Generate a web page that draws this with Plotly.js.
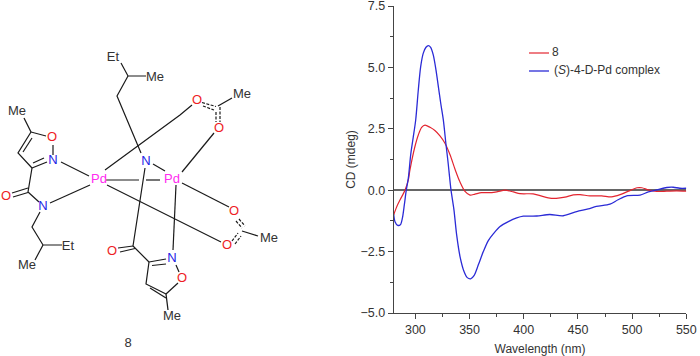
<!DOCTYPE html>
<html><head><meta charset="utf-8">
<script src="https://cdn.plot.ly/plotly-3.0.1.min.js"></script>
<style>html,body{margin:0;padding:0;background:#fff}#c{width:700px;height:356px}</style></head>
<body><div id="c"></div>
<script>
// CD spectra
const redX=[280,281,283,285.8,290.4,293.5,295,299.6,302.7,305.8,308.9,313.5,318,322.7,327.3,332,336.6,341,345.8,350.4,355,361,370.4,376,382.8,390.4,396.5,408.7,415,422.6,430,438,445.7,451.9,461,471.9,481,488.9,496.6,504.6,509,515,522.7,532,541,550];
const redY=[-1.0,-0.88,-0.65,-0.4,0,0.42,0.83,1.78,2.25,2.56,2.65,2.56,2.43,2.21,1.91,1.44,0.85,0.35,-0.05,-0.2,-0.16,-0.1,-0.1,-0.06,0,-0.07,-0.14,-0.15,-0.22,-0.31,-0.33,-0.28,-0.19,-0.18,-0.23,-0.23,-0.27,-0.18,-0.04,0.1,0.1,0.01,-0.05,-0.04,-0.03,-0.04];
const blueX=[280,281.2,283.7,286.1,288,289.8,291.6,293.5,295.7,298,300.3,302.7,304.9,307.3,309.8,311.9,314.1,316.5,319,321.2,323.4,325.8,328.3,330,332.9,335.6,338.1,341.2,344.9,347.9,351,354.1,358.1,362.7,367.3,371.9,378.1,385.8,393.5,399.6,412,424,436.4,448.8,459.5,467,479.6,487,495,507.3,515,522.7,532,538,544,550];
const blueY=[-0.98,-1.28,-1.43,-1.41,-1.14,-0.6,0,0.49,1.45,2.15,2.86,4.08,5.03,5.58,5.82,5.89,5.82,5.51,4.9,4.22,3.54,2.86,1.84,1.2,0,-0.8,-1.82,-2.7,-3.31,-3.56,-3.61,-3.48,-3.04,-2.5,-2.05,-1.78,-1.48,-1.28,-1.13,-1.06,-1.05,-0.99,-1.04,-0.87,-0.76,-0.66,-0.57,-0.39,-0.23,-0.2,-0.07,0.01,0.11,0.12,0.08,0.08];
const redName='8';
const blueName='(<i>S</i>)-4-D-Pd complex';
const yTicks=[-5,-2.5,0,2.5,5,7.5];
const yTickLabels=['\u22125.0','\u22122.5','0.0','2.5','5.0','7.5'];
const xTicks=[300,350,400,450,500,550];

// structure of 8: bond segments, separated by null
const bondX=[121,128,146,null,128,117,141,null,105,180,192,null,145,133,149,null,133,118,null,135,120,null,
 149,166,null,152,166,null,149,146,166,null,150,166,null,166,168,null,176,179,null,178,166,null,
 176,173,null,153,165,null,106,139,null,146,160,null,182,229,null,107,221,null,242,258,null,
 218,232,null,214,182,null,61,89,null,50,90,null,32,28,39,null,12,28,null,13,28,null,
 40,32,43,62,null,43,35,null,31,24,null,31,46,null,53,53,null,47,32,null,44,33,null,32,18,31,null,23,32,null];
const bondY=[63,76,76,null,76,96,153,null,170,115,105,null,168,246,262,null,246,248,null,248.5,252,null,
 262,259,null,265.5,264,null,262,284,294,null,288,298,null,294,310,null,265,272,null,283,294,null,
 185,250,null,164,171,null,180,180,null,180,180,null,183,207,null,185,242,null,231,236,null,
 106,98,null,133,172,null,162,176,null,203,185,null,168,192,202,null,193,188,null,197,192.5,null,
 212,227,245,245,null,245,260,null,132,118,null,132,136,null,145,155,null,162,168,null,158,163,null,168,153,132,null,152,138,null];
const dashX=[202,216,null,203,214,null,216,216,null,220,220,null,236,242,null,239,245,null,232,238,null,235,241,null];
const dashY=[102.5,106.5,null,106,110,null,112,122,null,107,122,null,221,228,null,219,226,null,241,233,null,244,236,null];
const atomX=[113,155,17,52,53,99,146,172,6,43,68,27,112,172,182,172,197,219,242,234,227,269,128];
const atomY=[58,78,112,138,161,180,162,180,197,207,247,266,252,259,279,317,101,129,95,212,246,239,344];
const atomT=['Et','Me','Me','O','N','Pd','N','Pd','O','N','Et','Me','O','N','O','Me','O','O','Me','O','O','Me','8'];
const atomColors={O:'#ee1c25',N:'#2323e6',Pd:'#ff2bf0'};

// legend keys
const keyX=[529,549];
const keyRedY=[53,53], keyBlueY=[71,71];
const red='#e32530', blue='#2b2bd6';
const font='"Liberation Sans",Arial,sans-serif';

const traces=[
 {x:redX,y:redY,type:'scatter',mode:'lines',name:redName,line:{color:red,width:1.2,shape:'spline',smoothing:0.8}},
 {x:blueX,y:blueY,type:'scatter',mode:'lines',name:blueName,line:{color:blue,width:1.3,shape:'spline',smoothing:0.8}},
 {x:bondX,y:bondY,xaxis:'x2',yaxis:'y2',mode:'lines',line:{color:'#1a1a1a',width:1.2}},
 {x:dashX,y:dashY,xaxis:'x2',yaxis:'y2',mode:'lines',line:{color:'#1a1a1a',width:1.2,dash:'3px,1.5px'}},
 {x:atomX,y:atomY,text:atomT,xaxis:'x2',yaxis:'y2',mode:'text',textposition:'middle center',
  textfont:{family:font,size:13,color:atomT.map(t=>atomColors[t]||'#333')}},
 {x:keyX,y:keyRedY,xaxis:'x2',yaxis:'y2',mode:'lines',line:{color:red,width:1.2}},
 {x:keyX,y:keyBlueY,xaxis:'x2',yaxis:'y2',mode:'lines',line:{color:blue,width:1.3}},
 {x:[552,554],y:[53,71],text:[redName,blueName],xaxis:'x2',yaxis:'y2',mode:'text',textposition:'middle right',
  textfont:{family:font,size:12,color:'#333'}}
];
const layout={
 width:700,height:356,margin:{l:0,r:0,t:0,b:0},paper_bgcolor:'#fff',plot_bgcolor:'rgba(0,0,0,0)',showlegend:false,hovermode:false,
 font:{family:font,size:12.5,color:'#333'},
 xaxis:{domain:[393.7/700,686.3/700],range:[280,550],tickvals:xTicks,ticks:'outside',ticklen:5,tickwidth:1,tickcolor:'#444',
  ticklabeloverflow:'allow',showgrid:false,zeroline:false,showline:true,linecolor:'#444',linewidth:1,automargin:false,
  minor:{tickvals:[325,375,425,475,525],ticks:'outside',ticklen:3,tickcolor:'#444',showgrid:false},
  title:{text:'Wavelength (nm)',standoff:8,font:{size:12,color:'#333'}},anchor:'y'},
 yaxis:{domain:[43/356,350/356],range:[-5,7.5],tickvals:yTicks,ticktext:yTickLabels,ticks:'outside',ticklen:5,tickwidth:1,tickcolor:'#444',
  ticklabeloverflow:'allow',showgrid:false,zeroline:true,zerolinecolor:'#666',zerolinewidth:2,showline:true,linecolor:'#444',linewidth:1,automargin:false,
  minor:{tickvals:[-3.75,-1.25,1.25,3.75,6.25],ticks:'outside',ticklen:3,tickcolor:'#444',showgrid:false},
  title:{text:'CD (mdeg)',standoff:2,font:{size:12,color:'#333'}},anchor:'x'},
 xaxis2:{domain:[0,1],range:[0,700],visible:false,anchor:'y2',fixedrange:true},
 yaxis2:{domain:[0,1],range:[356,0],visible:false,anchor:'x2',fixedrange:true}
};
Plotly.newPlot('c',traces,layout,{displayModeBar:false,staticPlot:true});
</script></body></html>
